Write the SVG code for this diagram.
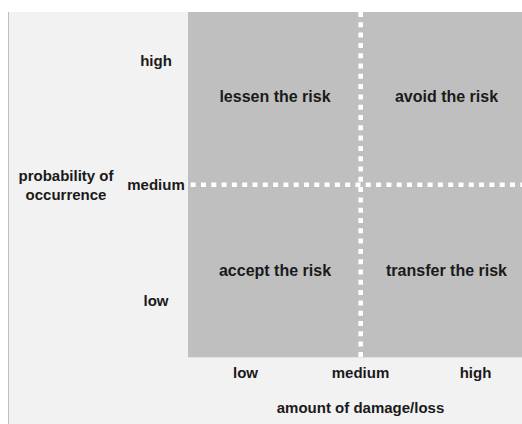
<svg xmlns="http://www.w3.org/2000/svg" width="522" height="424" viewBox="0 0 522 424">
  <style>
    text { font-family: "Liberation Sans", Arial, sans-serif; font-weight: bold; fill: #1a1a1a; text-anchor: middle; }
    .ax { font-size: 15px; }
    .q { font-size: 16px; }
    .dot { stroke: #ffffff; stroke-width: 4.6; fill: none; stroke-dasharray: 5 5.3; }
  </style>
  <rect x="0" y="0" width="522" height="424" fill="#ffffff"/>
  <rect x="8" y="12" width="514" height="412" fill="#f2f2f2"/>
  <line x1="8.5" y1="12" x2="8.5" y2="424" stroke="#bfbfbf" stroke-width="1"/>
  <g id="matrix">
    <rect x="188" y="12" width="334" height="345.3" fill="#bfbfbf"/>
  </g>
  <g id="connectors">
    <line class="dot" x1="360.7" y1="12" x2="360.7" y2="357.3"/>
    <line class="dot" x1="190.7" y1="184.7" x2="522" y2="184.7"/>
  </g>
  <g id="q-lessen"><text class="q" x="275" y="102">lessen the risk</text></g>
  <g id="q-avoid"><text class="q" x="446.5" y="102">avoid the risk</text></g>
  <g id="q-accept"><text class="q" x="275" y="276">accept the risk</text></g>
  <g id="q-transfer"><text class="q" x="446.5" y="276">transfer the risk</text></g>
  <g id="y-axis">
    <text class="ax" x="156" y="66">high</text>
    <text class="ax" x="156" y="190">medium</text>
    <text class="ax" x="156" y="306">low</text>
    <text class="ax" x="66" y="181">probability of</text>
    <text class="ax" x="66" y="200">occurrence</text>
  </g>
  <g id="x-axis">
    <text class="ax" x="245.5" y="378">low</text>
    <text class="ax" x="360.5" y="378">medium</text>
    <text class="ax" x="475.5" y="378">high</text>
    <text class="ax" x="360.5" y="413">amount of damage/loss</text>
  </g>
</svg>
